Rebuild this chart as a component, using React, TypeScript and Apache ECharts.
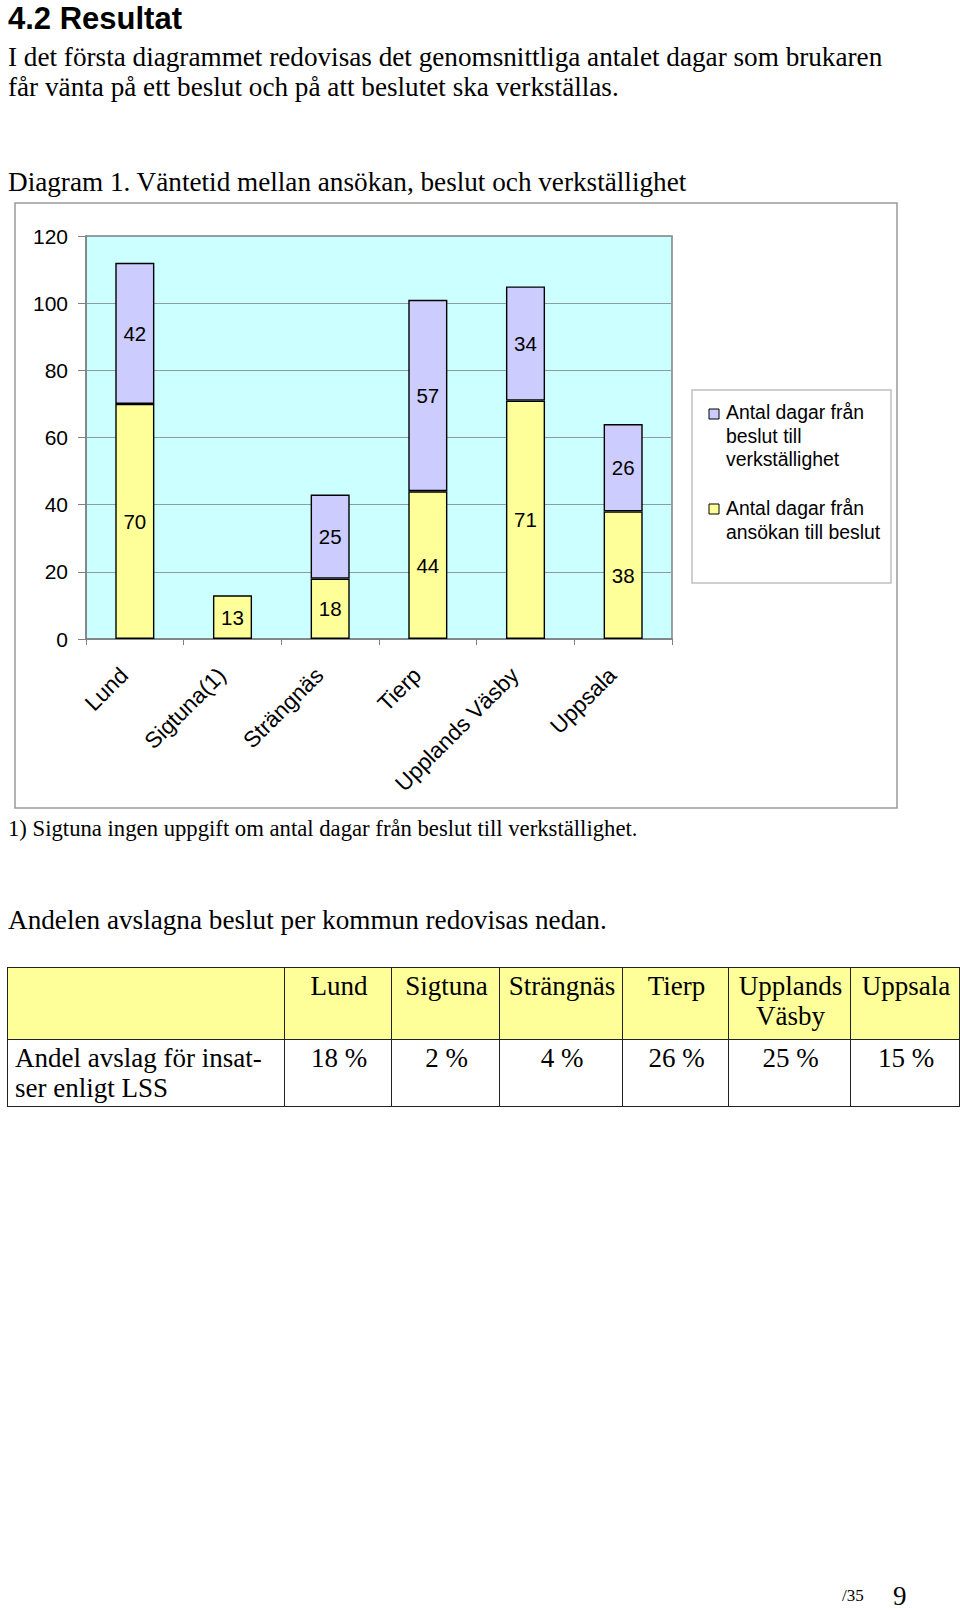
import React, { useEffect, useRef } from "react";
import * as echarts from "echarts";

const categories = ["Lund", "Sigtuna(1)", "Strängnäs", "Tierp", "Upplands Väsby", "Uppsala"];
const ansokanTillBeslut = [70, 13, 18, 44, 71, 38];
const beslutTillVerkstallighet: (number | null)[] = [42, null, 25, 57, 34, 26];
const yTicks = { min: 0, max: 120, interval: 20 };
const legendNames = ["Antal dagar från\nbeslut till\nverkställighet", "Antal dagar från\nansökan till beslut"];

const tableHeader = ["", "Lund", "Sigtuna", "Strängnäs", "Tierp", "Upplands Väsby", "Uppsala"];
const tableRowLabel = "Andel avslag för insat-\nser enligt LSS";
const tableValues = ["18 %", "2 %", "4 %", "26 %", "25 %", "15 %"];
const colWidths = [277, 107, 108, 123, 106, 122, 109];

const serif = '"Liberation Serif", "Times New Roman", serif';
const sans = '"Liberation Sans", Arial, sans-serif';

function Chart() {
  const ref = useRef<HTMLDivElement>(null);
  useEffect(() => {
    if (!ref.current) return;
    const chart = echarts.init(ref.current, undefined, { renderer: "svg" });
    const font = '19.4px "Liberation Sans", Arial, sans-serif';
    chart.setOption({
      animation: false,
      textStyle: { fontFamily: sans },
      grid: {
        left: 86,
        top: 41,
        width: 586,
        height: 403,
        show: true,
        backgroundColor: "#CCFFFF",
        borderColor: "#808080",
        borderWidth: 1.5,
      },
      xAxis: {
        type: "category",
        data: categories,
        axisLine: { show: true, lineStyle: { color: "#808080", width: 1.5 } },
        axisTick: { show: true, length: 6, lineStyle: { color: "#808080" } },
        axisLabel: {
          interval: 0,
          rotate: 45,
          margin: 22,
          padding: [0, 15, 0, 0],
          fontSize: 22.5,
          color: "#000",
          fontFamily: sans,
        },
      },
      yAxis: {
        type: "value",
        min: yTicks.min,
        max: yTicks.max,
        interval: yTicks.interval,
        axisLine: { show: true, lineStyle: { color: "#808080", width: 1.5 } },
        axisTick: { show: true, length: 8, lineStyle: { color: "#808080" } },
        axisLabel: { fontSize: 21, color: "#000", margin: 18, fontFamily: sans },
        splitLine: { show: true, lineStyle: { color: "#8a9e9e", width: 1 } },
      },
      series: [
        {
          name: "Antal dagar från ansökan till beslut",
          type: "bar",
          stack: "total",
          data: ansokanTillBeslut,
          barWidth: "40%",
          itemStyle: { color: "#FFFF99", borderColor: "#000", borderWidth: 1.4 },
          label: { show: true, position: "inside", fontSize: 20.5, color: "#000", fontFamily: sans },
        },
        {
          name: "Antal dagar från beslut till verkställighet",
          type: "bar",
          stack: "total",
          data: beslutTillVerkstallighet,
          barWidth: "40%",
          itemStyle: { color: "#CCCCFF", borderColor: "#000", borderWidth: 1.4 },
          label: { show: true, position: "inside", fontSize: 20.5, color: "#000", fontFamily: sans },
        },
      ],
      graphic: [
        {
          type: "rect",
          silent: true,
          z: -10,
          shape: { x: 15, y: 8, width: 882, height: 605 },
          style: { fill: "none", stroke: "#9a9a9a", lineWidth: 1.5 },
        },
        {
          type: "rect",
          shape: { x: 692, y: 195, width: 199, height: 193 },
          style: { fill: "#fff", stroke: "#c0c0c0", lineWidth: 1.5 },
        },
        {
          type: "rect",
          shape: { x: 709, y: 214, width: 10, height: 10 },
          style: { fill: "#CCCCFF", stroke: "#000", lineWidth: 1 },
        },
        {
          type: "text",
          style: { text: legendNames[0], x: 726, y: 205, font, fill: "#000", lineHeight: 23.7, verticalAlign: "top" },
        },
        {
          type: "rect",
          shape: { x: 709, y: 309, width: 10, height: 10 },
          style: { fill: "#FFFF99", stroke: "#000", lineWidth: 1 },
        },
        {
          type: "text",
          style: { text: legendNames[1], x: 726, y: 301, font, fill: "#000", lineHeight: 23.7, verticalAlign: "top" },
        },
      ],
    });
    return () => chart.dispose();
  }, []);
  return <div ref={ref} style={{ position: "absolute", left: 0, top: 195, width: 960, height: 630 }} />;
}

export default function App() {
  const abs = (top: number, extra: React.CSSProperties = {}): React.CSSProperties => ({
    position: "absolute",
    left: 8,
    top,
    margin: 0,
    whiteSpace: "nowrap",
    color: "#000",
    ...extra,
  });
  const cellBase: React.CSSProperties = {
    border: "1.5px solid #222",
    verticalAlign: "top",
    paddingTop: 3,
    paddingLeft: 6,
    paddingRight: 4,
    fontFamily: serif,
    fontSize: 27,
    lineHeight: "30px",
    textAlign: "center",
  };
  return (
    <div style={{ position: "absolute", left: 0, top: 0, width: 960, height: 1613, background: "#fff", overflow: "hidden" }}>
      <div style={abs(1, { fontFamily: sans, fontWeight: "bold", fontSize: 31, lineHeight: "36px" })}>4.2 Resultat</div>
      <div style={abs(42, { fontFamily: serif, fontSize: 27.2, lineHeight: "30px" })}>
        I det första diagrammet redovisas det genomsnittliga antalet dagar som brukaren
        <br />
        får vänta på ett beslut och på att beslutet ska verkställas.
      </div>
      <div style={abs(167, { fontFamily: serif, fontSize: 27.2, lineHeight: "30px" })}>
        Diagram 1. Väntetid mellan ansökan, beslut och verkställighet
      </div>
      <Chart />
      <div style={abs(816, { fontFamily: serif, fontSize: 22.7, lineHeight: "26px" })}>
        1) Sigtuna ingen uppgift om antal dagar från beslut till verkställighet.
      </div>
      <div style={abs(905, { fontFamily: serif, fontSize: 27.2, lineHeight: "30px" })}>
        Andelen avslagna beslut per kommun redovisas nedan.
      </div>
      <table
        style={{
          position: "absolute",
          left: 7,
          top: 967,
          borderCollapse: "collapse",
          tableLayout: "fixed",
          width: 952,
        }}
      >
        <colgroup>
          {colWidths.map((w, i) => (
            <col key={i} style={{ width: w }} />
          ))}
        </colgroup>
        <tbody>
          <tr style={{ height: 72, background: "#FFFF99" }}>
            {tableHeader.map((h, i) => (
              <td key={i} style={cellBase}>
                {h === "Upplands Väsby" ? (
                  <>
                    Upplands
                    <br />
                    Väsby
                  </>
                ) : (
                  h
                )}
              </td>
            ))}
          </tr>
          <tr style={{ height: 67 }}>
            <td style={{ ...cellBase, textAlign: "left", paddingLeft: 7 }}>
              {tableRowLabel.split("\n").map((l, i) => (
                <React.Fragment key={i}>
                  {i > 0 && <br />}
                  {l}
                </React.Fragment>
              ))}
            </td>
            {tableValues.map((v, i) => (
              <td key={i} style={cellBase}>
                {v}
              </td>
            ))}
          </tr>
        </tbody>
      </table>
      <div style={{ position: "absolute", left: 842, top: 1586, fontFamily: serif, fontSize: 17, lineHeight: "20px" }}>/35</div>
      <div style={{ position: "absolute", left: 893, top: 1581, fontFamily: serif, fontSize: 27, lineHeight: "30px" }}>9</div>
    </div>
  );
}
